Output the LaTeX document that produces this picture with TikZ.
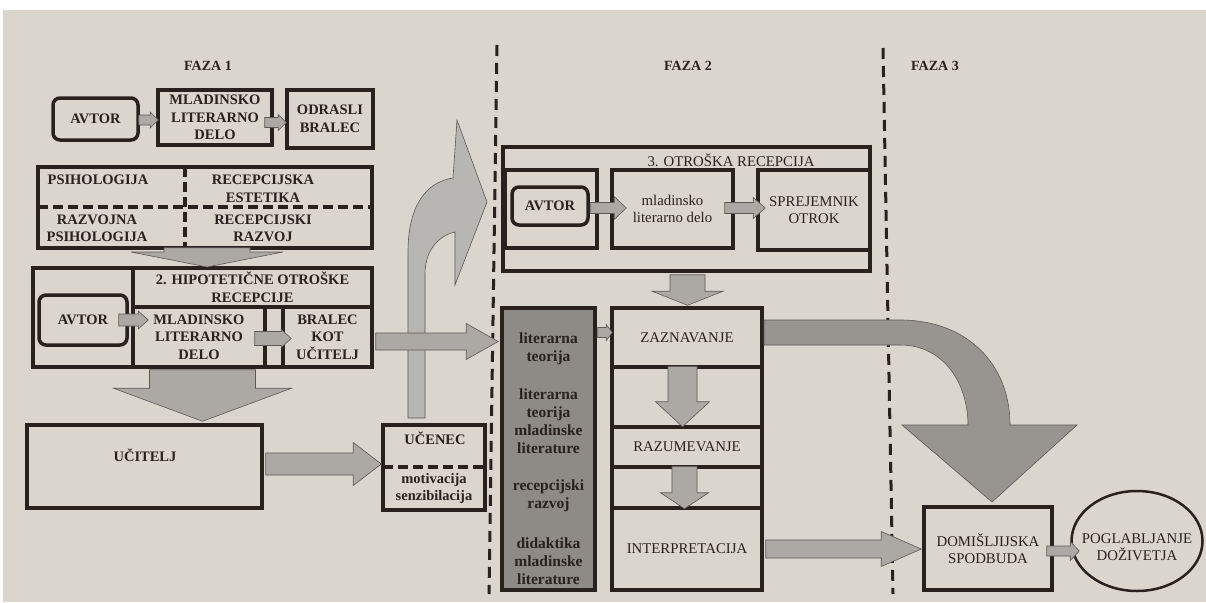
\documentclass[tikz,border=0pt]{standalone}
\usepackage{fontspec}
\setmainfont{Liberation Serif}
\usetikzlibrary{calc,shapes.geometric}
\definecolor{paper}{RGB}{218,213,205}
\definecolor{ink}{RGB}{40,33,30}
\definecolor{agray}{RGB}{172,169,164}
\definecolor{bgray}{RGB}{152,149,145}
\definecolor{cgray}{RGB}{142,138,133}
\tikzset{
 box/.style={draw=ink, line width=3.5pt, inner sep=0pt},
 rbox/.style={box, rounded corners=7pt},
 txt/.style={inner sep=0pt, align=center, text=ink, font=\fontsize{14.5}{17.5}\selectfont\bfseries},
 txr/.style={inner sep=0pt, align=center, text=ink, font=\fontsize{14.8}{17.5}\selectfont},
 littxt/.style={txt, font=\fontsize{15.5}{18}\selectfont\bfseries},
 lbl/.style={inner sep=0pt, text=ink, font=\fontsize{14}{16}\selectfont\bfseries},
 blk/.style={fill=agray, draw=ink!75, line width=0.6pt},
 bigB/.style={fill=bgray, draw=ink!75, line width=0.6pt},
 phase/.style={draw=ink, line width=3pt, dash pattern=on 11pt off 7pt},
 innerdash/.style={draw=ink, line width=3.5pt, dash pattern=on 10pt off 5pt},
}
% box node: [style]{name}{x1}{y1}{x2}{y2}{text}
\newcommand\bx[7][]{\node[#1, minimum width={#5-#3}, minimum height={#6-#4}] (#2) at ({(#3+#5)/2},{(#4+#6)/2}) {#7};}
% horizontal block arrow: [style]{start}{end}{half stem}{half head}{head length}
\newcommand\harr[6][blk]{\path[#1] let \p1=#2, \p2=#3 in
 (\x1,{\y1+#4pt}) -- ({\x2-#6pt},{\y1+#4pt}) -- ({\x2-#6pt},{\y1+#5pt}) -- (\x2,\y1) -- ({\x2-#6pt},{\y1-#5pt}) -- ({\x2-#6pt},{\y1-#4pt}) -- (\x1,{\y1-#4pt}) -- cycle;}
% downward block arrow: [style]{start (x, top)}{end (tip)}{half stem}{half head}{head length}
\newcommand\varr[6][blk]{\path[#1] let \p1=#2, \p2=#3 in
 ({\x1+#4pt},\y1) -- ({\x1+#4pt},{\y2+#6pt}) -- ({\x1+#5pt},{\y2+#6pt}) -- (\x1,\y2) -- ({\x1-#5pt},{\y2+#6pt}) -- ({\x1-#4pt},{\y2+#6pt}) -- ({\x1-#4pt},\y1) -- cycle;}
\begin{document}
\begin{tikzpicture}[x=1pt,y=-1pt]
\useasboundingbox (0,0) rectangle (1206,602);
\fill[white] (0,0) rectangle (1206,602);
\fill[paper] (3,10) rectangle (1206,602);

% phase separators and labels
\coordinate (p1t) at (497,45);
\coordinate (p1b) at (489,594);
\coordinate (p2t) at (883,48);
\coordinate (p2b) at (893,594);
\draw[phase] (p1t) -- (p1b);
\draw[phase] (p2t) -- (p2b);
\node[lbl] (faza1) at (208,66) {FAZA 1};
\node[lbl] (faza2) at (688,66) {FAZA 2};
\node[lbl] (faza3) at (935,66) {FAZA 3};

% ---------- FAZA 1 ----------
\bx[rbox,txt]{avtorA}{53}{98}{138}{140}{AVTOR}
\bx[box,txt]{mlA}{158}{90}{272}{145}{MLADINSKO\\LITERARNO\\DELO}
\bx[box,txt]{odrasli}{287}{90}{373}{148}{ODRASLI\\BRALEC}

\bx[box]{psih}{38}{167}{372}{248}{}
\draw[innerdash] (185,167) -- (185,248);
\draw[innerdash] (38,207) -- (372,207);
\node[txt] (psA) at (98,180) {PSIHOLOGIJA};
\node[txt] (psB) at (263,189) {RECEPCIJSKA\\ESTETIKA};
\node[txt] (psC) at (97,228.5) {RAZVOJNA\\PSIHOLOGIJA};
\node[txt] (psD) at (263,228.5) {RECEPCIJSKI\\RAZVOJ};

\bx[box]{hip}{33}{268}{372}{367}{}
\bx[box,txt]{hiphead}{133}{268}{372}{307}{2. HIPOTETIČNE OTROŠKE\\RECEPCIJE}
\bx[rbox,txt]{avtorB}{39}{295}{127}{345}{AVTOR}
\bx[box,txt]{mlB}{133}{307}{265}{367}{MLADINSKO\\LITERARNO\\DELO}
\bx[box,txt]{bralec}{283}{307}{372}{367}{BRALEC\\KOT\\UČITELJ}

\bx[box]{ucitelj}{27}{425}{262}{508}{}
\node[txt] (ucT) at (145,455) {UČITELJ};
\bx[box]{ucenec}{383}{425}{485}{510}{}
\draw[innerdash] (383,467) -- (485,467);
\node[txt] (ucenT) at (435,438) {UČENEC};
\node[txt] (motT) at (434,488.5) {motivacija\\senzibilacija};

% ---------- FAZA 2 ----------
\bx[box]{otr}{503}{147}{870}{271}{}
\node[txr] (otrT) at (731,160) {3. OTROŠKA RECEPCIJA};
\bx[box]{otrL}{505}{170}{597}{248}{}
\bx[rbox,txt]{avtorC}{512}{187}{588}{225}{AVTOR}
\bx[box,txr]{mlC}{612}{170}{733}{248}{mladinsko\\literarno delo}
\bx[box,txr]{sprej}{758}{170}{870}{250}{SPREJEMNIK\\OTROK}

\bx[box,fill=cgray]{lit}{502}{308}{595}{590}{}
\node[littxt] (litA) at (548.5,348.5) {literarna\\teorija};
\node[littxt] (litB) at (548.5,421.5) {literarna\\teorija\\mladinske\\literature};
\node[littxt] (litC) at (548.5,496) {recepcijski\\razvoj};
\node[littxt] (litD) at (548.5,561.5) {didaktika\\mladinske\\literature};

\bx[box,txr]{zazn}{612}{308}{762}{367}{ZAZNAVANJE}
\bx[box]{gapA}{612}{367}{762}{427}{}
\bx[box,txr]{razum}{612}{427}{762}{467}{RAZUMEVANJE}
\bx[box]{gapB}{612}{467}{762}{508}{}
\bx[box,txr]{interp}{612}{508}{762}{590}{INTERPRETACIJA}

% ---------- FAZA 3 ----------
\bx[box,txr]{domis}{924}{507}{1052}{590}{DOMIŠLJIJSKA\\SPODBUDA}
\node[ellipse, draw=ink, line width=2.5pt, minimum width=131pt, minimum height=100pt, inner sep=0pt] (pogl) at (1137,541) {};
\node[txr] (poglT) at (1137,547) {POGLABLJANJE\\DOŽIVETJA};

% ---------- arrows ----------
\harr{($(avtorA.east)+(-1,1)$)}{($(mlA.west)+(2,0)$)}{5}{8}{8}
\harr{($(mlA.east)+(-9,5)$)}{($(odrasli.west)+(1,0)$)}{5}{8}{8}
\varr{($(psih.south)+(2,-2)$)}{(207,267)}{43}{76}{15}
\harr{($(avtorB.east)+(-10,0)$)}{($(mlB.west)+(17,0)$)}{6}{9}{10}
\harr{($(mlB.east)+(-12,1.5)$)}{($(bralec.west)+(10,0)$)}{7}{9}{10}
\varr{($(hip.south)+(0,1)$)}{($(ucitelj.north)+(85,-2)$)}{53}{89}{33}
\harr{($(ucitelj.east)+(2,-2.5)$)}{(ucenec.west)}{11}{21.5}{28}

% curved arrow from UČENEC
\path[blk,fill=agray!85!white] (408,418) -- (408,252) .. controls (408,206) and (426,182) .. (453,178) -- (457,120) -- (487,202) -- (455,285) -- (455,232) .. controls (437,236) and (425,252) .. (425,274) -- (425,418) -- cycle;
\harr{($(bralec.east)+(2,4.5)$)}{($(lit.west)+(-2,0)$ |- bralec.east)}{8.5}{18}{32}

\varr{($(otr.south)+(1,2)$)}{($(zazn.north)+(1.5,-1)$)}{17.5}{35.5}{14}
\harr{($(lit.east |- zazn.west)+(1,-5)$)}{($(zazn.west)+(2,-5)$)}{5}{8}{6}
\harr{($(avtorC.east)+(1,2)$)}{($(mlC.west)+(16,0)$)}{5.5}{11.5}{12}
\harr{($(mlC.east)+(-10,-1)$)}{($(sprej.west)+(9,0)$)}{5.5}{10.5}{12}
\varr{($(gapA.north)+(-4.5,1)$)}{($(gapA.south)+(-4.5,-2)$)}{14.5}{27}{25}
\varr{($(gapB.north)+(-2.5,1)$)}{($(gapB.south)+(-2.5,-1)$)}{12.5}{24}{16}

% big curved arrow ZAZNAVANJE -> DOMIŠLJIJSKA SPODBUDA
\path[bigB] (764,320) -- (900,320) .. controls (968,320) and (1010,365) .. (1010,425) -- (1077,425) -- (992,502) -- (902,425) -- (968,425) .. controls (968,385) and (945,345) .. (900,345) -- (764,345) -- cycle;

\harr{($(interp.east)+(2,0)$)}{($(domis.west)+(-1,0)$)}{9}{17.5}{40}
\harr{($(domis.east)+(-7,2.5)$)}{($(pogl.west)+(9,0)$)}{5}{9.5}{9}
\end{tikzpicture}
\end{document}
